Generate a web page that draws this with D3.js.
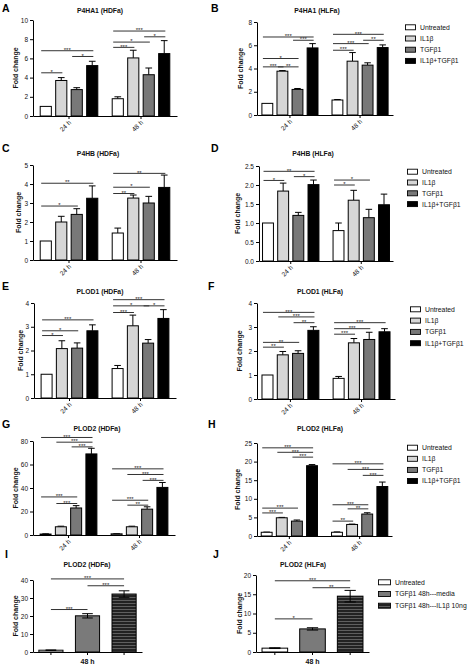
<!DOCTYPE html>
<html><head><meta charset="utf-8">
<script src="https://cdn.jsdelivr.net/npm/d3@7"></script>
<style>body{margin:0;background:#fff} svg{display:block}</style>
</head><body><svg id="c" width="474" height="666"></svg>
<script>
// ---------- DATA ----------
const groups = ["24 h", "48 h"];
const series = ["Untreated", "IL1β", "TGFβ1", "IL1β+TGFβ1"];
const seriesIJ = ["Untreated", "TGFβ1 48h---media", "TGFβ1 48h---IL1β 10ng"];
const groupIJ = "48 h";

// A: P4HA1 (HDFa)
const aTicks = [0, 2, 4, 6, 8, 10];
const aVals = [[1.0, 3.7, 2.75, 5.25], [1.8, 6.05, 4.3, 6.5]];
const aErr = [[0, 0.3, 0.2, 0.45], [0.2, 0.8, 0.7, 1.35]];
const aSig = [[0,0,1,"*",4.5],[0,2,3,"*",6.2],[0,0,3,"***",6.8],[1,0,1,"***",7.15],[1,0,2,"*",7.7],[1,2,3,"*",8.25],[1,0,3,"***",8.85]];
// B: P4HA1 (HLFa)
const bTicks = [0, 2, 4, 6, 8];
const bVals = [[1.0, 3.77, 2.2, 5.77], [1.29, 4.63, 4.29, 5.8]];
const bErr = [[0, 0.05, 0.08, 0.37], [0.04, 0.74, 0.2, 0.23]];
const bSig = [[0,0,1,"***",4.14],[0,1,2,"**",4.14],[0,0,2,"*",4.86],[0,2,3,"***",6.43],[0,0,3,"***",6.71],[1,0,1,"***",5.57],[1,0,2,"***",6.14],[1,2,3,"**",6.43],[1,0,3,"***",6.94]];
// C: P4HB (HDFa)
const cTicks = [0, 1, 2, 3, 4, 5];
const cVals = [[1.0, 2.0, 2.4, 3.25], [1.42, 3.26, 3.0, 3.82]];
const cErr = [[0, 0.3, 0.3, 0.65], [0.26, 0.16, 0.35, 0.65]];
const cSig = [[0,0,2,"*",2.84],[0,0,3,"**",4.04],[1,0,1,"**",3.5],[1,0,2,"*",3.83],[1,0,3,"**",4.56]];
// D: P4HB (HLFa)
const dTicks = [0, 0.5, 1.0, 1.5, 2.0, 2.5];
const dVals = [[1.0, 1.84, 1.2, 2.01], [0.8, 1.6, 1.14, 1.48]];
const dErr = [[0, 0.21, 0.08, 0.12], [0.2, 0.26, 0.22, 0.28]];
const dSig = [[0,0,1,"*",2.12],[0,2,3,"*",2.22],[0,0,3,"**",2.36],[1,0,1,"*",2.0],[1,0,2,"*",2.13]];
// E: PLOD1 (HDFa)
const eTicks = [0, 1, 2, 3, 4];
const eVals = [[1.0, 2.08, 2.1, 2.83], [1.24, 3.04, 2.31, 3.35]];
const eErr = [[0, 0.33, 0.22, 0.25], [0.13, 0.45, 0.15, 0.37]];
const eSig = [[0,0,1,"*",2.63],[0,0,2,"*",2.83],[0,0,3,"***",3.29],[1,0,1,"***",3.6],[1,0,2,"*",3.88],[1,2,3,"*",3.88],[1,0,3,"***",4.14]];
// F: PLOD1 (HLFa)
const fTicks = [0, 1, 2, 3, 4];
const fVals = [[1.0, 1.84, 1.9, 2.86], [0.86, 2.34, 2.48, 2.8]];
const fErr = [[0, 0.14, 0.11, 0.15], [0.08, 0.18, 0.3, 0.13]];
const fSig = [[0,0,1,"**",2.16],[0,0,2,"**",2.36],[0,2,3,"**",3.18],[0,1,3,"***",3.42],[0,0,3,"***",3.61],[1,0,1,"***",2.7],[1,0,2,"***",2.93],[1,0,3,"***",3.18]];
// G: PLOD2 (HDFa)
const gTicks = [0, 20, 40, 60, 80];
const gVals = [[0.8, 7.0, 23.0, 69.0], [1.0, 7.0, 22.0, 40.5]];
const gErr = [[0.2, 0.5, 2.0, 4.8], [0.2, 0.5, 2.0, 4.2]];
const gSig = [[0,0,2,"***",32.4],[0,1,2,"***",26.8],[0,2,3,"***",75],[0,1,3,"***",79],[0,0,3,"***",83],[1,0,2,"***",29.6],[1,1,2,"**",25.4],[1,2,3,"***",46.5],[1,1,3,"***",51.5],[1,0,3,"***",56.3]];
// H: PLOD2 (HLFa)
const hTicks = [0, 5, 10, 15, 20, 25];
const hVals = [[1.0, 4.9, 4.0, 18.9], [1.0, 3.1, 5.9, 13.3]];
const hErr = [[0.05, 0.1, 0.3, 0.3], [0.1, 0.1, 0.35, 1.2]];
const hSig = [[0,0,1,"***",6.2],[0,0,2,"***",7.5],[0,2,3,"***",21.2],[0,1,3,"***",22.5],[0,0,3,"***",23.7],[1,0,1,"**",4.0],[1,1,2,"**",7.3],[1,0,2,"***",8.4],[1,2,3,"***",16.3],[1,1,3,"***",17.9],[1,0,3,"***",19.4]];
// I: PLOD2 (HDFa) 48 h
const iTicks = [0, 10, 20, 30, 40];
const iVals = [1.0, 20.1, 32.2];
const iErr = [0.1, 1.2, 1.8];
const iSig = [[0,1,"***",23.6],[1,2,"***",36.8],[0,2,"***",40.6]];
// J: PLOD2 (HLFa) 48 h
const jTicks = [0, 5, 10, 15, 20];
const jVals = [1.0, 6.0, 14.5];
const jErr = [0.1, 0.3, 1.5];
const jSig = [[0,1,"*",8.6],[1,2,"**",16.7],[0,2,"***",18.5]];

// ---------- DRAWING ----------
const FONT = "'Liberation Sans', Arial, Helvetica, sans-serif";
const svg = d3.select("#c").attr("font-family", FONT);
const fills4 = ["#ffffff", "#d6d6d6", "#787878", "#000000"];

const defs = svg.append("defs");
const pat = defs.append("pattern").attr("id", "stripes").attr("patternUnits", "userSpaceOnUse")
  .attr("width", 6).attr("height", 3);
pat.append("rect").attr("width", 6).attr("height", 3).attr("fill", "#222222");
pat.append("line").attr("x1", 0).attr("x2", 6).attr("y1", 0.5).attr("y2", 0.5)
  .attr("stroke", "#7a7a7a").attr("stroke-width", 0.7);
const fills3 = ["#ffffff", "#7a7a7a", "url(#stripes)"];

function styleAxis(g, fs, bold) {
  g.attr("font-family", FONT).attr("font-size", fs);
  if (bold) g.attr("font-weight", "bold");
  g.selectAll("path,line").attr("stroke", "#000").attr("stroke-width", 1);
  g.selectAll("text").attr("fill", "#111");
}

function letter(t, x, y) {
  svg.append("text").attr("x", x).attr("y", y).attr("font-size", 10.5)
    .attr("font-weight", "bold").attr("fill", "#000").text(t);
}

function title(t, x, y) {
  svg.append("text").attr("x", x).attr("y", y).attr("text-anchor", "middle")
    .attr("font-size", 6.8).attr("font-weight", "bold").attr("fill", "#111").text(t);
}

function yLabel(x, y) {
  svg.append("text").attr("transform", `translate(${x},${y}) rotate(-90)`)
    .attr("text-anchor", "middle").attr("font-size", 7).attr("font-weight", "bold")
    .attr("fill", "#111").text("Fold change");
}

function sigMark(x1, x2, yy, label) {
  svg.append("line").attr("x1", x1).attr("x2", x2).attr("y1", yy).attr("y2", yy)
    .attr("stroke", "#333").attr("stroke-width", 1);
  svg.append("text").attr("x", (x1 + x2) / 2).attr("y", yy + 1.2).attr("text-anchor", "middle")
    .attr("font-size", 6).attr("fill", "#222").text(label);
}

function legend(names, fills, L) {
  names.forEach((n, i) => {
    const cy = L.y + i * L.dy;
    svg.append("rect").attr("x", L.x + 0.5).attr("y", cy - 2.5).attr("width", L.w).attr("height", 5)
      .attr("fill", fills[i]).attr("stroke", "#000").attr("stroke-width", 0.9);
    svg.append("text").attr("x", L.x + L.w + 5).attr("y", cy + 2.4).attr("font-size", 6.8)
      .attr("fill", "#111").text(n);
  });
}

function grouped(L, ticks, vals, errs, sigs, fmt) {
  const y = d3.scaleLinear().domain([0, ticks[ticks.length - 1]]).range([L.yb, L.yt]);
  const gx = d3.scaleBand().domain(groups).range([L.x0, L.x1]).paddingInner(0.2).paddingOuter(L.po);
  const sx = d3.scaleBand().domain(d3.range(series.length)).range([0, gx.bandwidth()]).paddingInner(0.28);
  const bw = sx.bandwidth();
  groups.forEach((g, gi) => {
    series.forEach((s, si) => {
      const bx = gx(g) + sx(si);
      const v = vals[gi][si], e = errs[gi][si];
      const cx = bx + bw / 2;
      if (e > 0) {
        svg.append("line").attr("x1", cx).attr("x2", cx).attr("y1", y(v)).attr("y2", y(v + e))
          .attr("stroke", "#000").attr("stroke-width", 1);
        svg.append("line").attr("x1", cx - bw * 0.3).attr("x2", cx + bw * 0.3).attr("y1", y(v + e)).attr("y2", y(v + e))
          .attr("stroke", "#000").attr("stroke-width", 1);
      }
      svg.append("rect").attr("x", bx).attr("y", y(v)).attr("width", bw).attr("height", y(0) - y(v))
        .attr("fill", fills4[si]).attr("stroke", "#000").attr("stroke-width", 1);
    });
  });
  const ya = svg.append("g").attr("transform", `translate(${L.x0},0)`)
    .call(d3.axisLeft(y).tickValues(ticks).tickSize(3).tickSizeOuter(0).tickPadding(2).tickFormat(fmt || d3.format("d")));
  styleAxis(ya, 6.5, false);
  const xa = svg.append("g").attr("transform", `translate(0,${L.yb})`)
    .call(d3.axisBottom(gx).tickSize(3).tickSizeOuter(0));
  styleAxis(xa, 6.5, false);
  xa.selectAll("text").remove();
  groups.forEach(g => {
    const cx = gx(g) + gx.bandwidth() / 2;
    svg.append("text").attr("transform", `translate(${cx + 2.5},${L.yb + 7}) rotate(-45)`)
      .attr("text-anchor", "end").attr("font-size", 6.5).attr("fill", "#111").text(g);
  });
  sigs.forEach(([gi, a, b, lab, v]) => {
    const g = groups[gi];
    sigMark(gx(g) + sx(a) + 1, gx(g) + sx(b) + bw * 0.6, y(v), lab);
  });
  yLabel(L.ylx, (L.yt + L.yb) / 2);
}

function single(L, ticks, vals, errs, sigs) {
  const y = d3.scaleLinear().domain([0, ticks[ticks.length - 1]]).range([L.yb, L.yt]);
  const x = d3.scaleBand().domain(d3.range(vals.length)).range([L.x0, L.x1]).paddingInner(L.pi).paddingOuter(L.po);
  const bw = x.bandwidth();
  vals.forEach((v, i) => {
    svg.append("rect").attr("x", x(i)).attr("y", y(v)).attr("width", bw).attr("height", y(0) - y(v))
      .attr("fill", fills3[i]).attr("stroke", "#000").attr("stroke-width", 1);
    const cx = x(i) + bw / 2, e = errs[i];
    svg.append("line").attr("x1", cx).attr("x2", cx).attr("y1", y(v - e)).attr("y2", y(v + e))
      .attr("stroke", "#000").attr("stroke-width", 1);
    [v - e, v + e].forEach(t => svg.append("line").attr("x1", cx - bw * 0.22).attr("x2", cx + bw * 0.22)
      .attr("y1", y(t)).attr("y2", y(t)).attr("stroke", "#000").attr("stroke-width", 1));
  });
  const ya = svg.append("g").attr("transform", `translate(${L.x0},0)`)
    .call(d3.axisLeft(y).tickValues(ticks).tickSize(3).tickSizeOuter(0).tickPadding(2).tickFormat(d3.format("d")));
  styleAxis(ya, 6.5, false);
  const xa = svg.append("g").attr("transform", `translate(0,${L.yb})`)
    .call(d3.axisBottom(x).tickSize(3).tickSizeOuter(0));
  styleAxis(xa, 6.5, false);
  xa.selectAll("text").remove();
  svg.append("text").attr("x", x(1) + bw / 2).attr("y", L.yb + 12).attr("text-anchor", "middle")
    .attr("font-size", 7).attr("font-weight", "bold").attr("fill", "#111").text(groupIJ);
  sigs.forEach(([a, b, lab, v]) => sigMark(x(a) + bw / 2, x(b) + bw / 2, y(v), lab));
  yLabel(L.ylx, (L.yt + L.yb) / 2);
}

// ---------- LAYOUT ----------
letter("A", 2, 12); title("P4HA1 (HDFa)", 100, 13);
grouped({x0: 33, x1: 177, po: 0.1, yt: 20, yb: 116, ylx: 17.5}, aTicks, aVals, aErr, aSig);
letter("B", 211, 12); title("P4HA1 (HLFa)", 317, 13);
grouped({x0: 257, x1: 393, po: 0.07, yt: 22, yb: 115, ylx: 243}, bTicks, bVals, bErr, bSig);
legend(series, fills4, {x: 405, y: 27.3, dy: 11.2, w: 10});

letter("C", 2, 152); title("P4HB (HDFa)", 98, 156);
grouped({x0: 33, x1: 177, po: 0.1, yt: 165, yb: 260, ylx: 21}, cTicks, cVals, cErr, cSig);
letter("D", 211, 152); title("P4HB (HLFa)", 313, 156);
grouped({x0: 259, x1: 393, po: 0.05, yt: 166, yb: 261, ylx: 239.5}, dTicks, dVals, dErr, dSig, d3.format(".1f"));
legend(series, fills4, {x: 407, y: 171.7, dy: 10.8, w: 10});

letter("E", 2, 290); title("PLOD1 (HDFa)", 100, 294);
grouped({x0: 34, x1: 176, po: 0.1, yt: 303, yb: 398, ylx: 22.5}, eTicks, eVals, eErr, eSig);
letter("F", 208, 290); title("PLOD1 (HLFa)", 320, 294);
grouped({x0: 257, x1: 395, po: 0.07, yt: 303, yb: 399, ylx: 242}, fTicks, fVals, fErr, fSig);
legend(series, fills4, {x: 410, y: 309.3, dy: 11.3, w: 10});

letter("G", 2, 428); title("PLOD2 (HDFa)", 97, 431);
grouped({x0: 33, x1: 175, po: 0.1, yt: 441, yb: 535, ylx: 18}, gTicks, gVals, gErr, gSig);
letter("H", 208, 428); title("PLOD2 (HLFa)", 320, 431);
grouped({x0: 257, x1: 392, po: 0.06, yt: 443, yb: 536, ylx: 240}, hTicks, hVals, hErr, hSig);
legend(series, fills4, {x: 407, y: 447.7, dy: 11.1, w: 10});

letter("I", 5, 558); title("PLOD2 (HDFa)", 87, 567);
single({x0: 33, x1: 142, pi: 0.34, po: 0.16, yt: 580, yb: 652, ylx: 17.5}, iTicks, iVals, iErr, iSig);
letter("J", 213, 558); title("PLOD2 (HLFa)", 303, 567);
single({x0: 256, x1: 369, pi: 0.32, po: 0.16, yt: 575, yb: 652, ylx: 242}, jTicks, jVals, jErr, jSig);
legend(seriesIJ, fills3, {x: 378, y: 582.3, dy: 11.7, w: 12});
</script></body></html>
